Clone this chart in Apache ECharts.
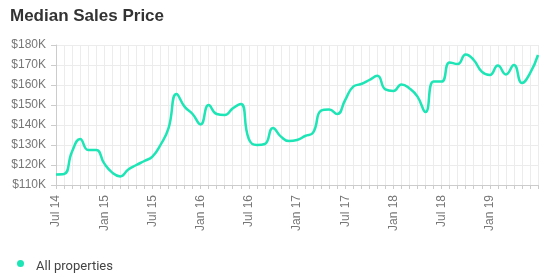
<!DOCTYPE html>
<html><head><meta charset="utf-8">
<script src="https://cdn.jsdelivr.net/npm/echarts@6/dist/echarts.min.js"></script>
<style>html,body{margin:0;padding:0;background:#fff}#c{width:549px;height:280px}</style>
</head><body><div id="c"></div>
<script>
const months = ['Jul 14','Aug 14','Sep 14','Oct 14','Nov 14','Dec 14',
'Jan 15','Feb 15','Mar 15','Apr 15','May 15','Jun 15','Jul 15','Aug 15','Sep 15','Oct 15','Nov 15','Dec 15',
'Jan 16','Feb 16','Mar 16','Apr 16','May 16','Jun 16','Jul 16','Aug 16','Sep 16','Oct 16','Nov 16','Dec 16',
'Jan 17','Feb 17','Mar 17','Apr 17','May 17','Jun 17','Jul 17','Aug 17','Sep 17','Oct 17','Nov 17','Dec 17',
'Jan 18','Feb 18','Mar 18','Apr 18','May 18','Jun 18','Jul 18','Aug 18','Sep 18','Oct 18','Nov 18','Dec 18',
'Jan 19','Feb 19','Mar 19','Apr 19','May 19','Jun 19','Jul 19'];
const labelMonths = ['Jul 14','Jan 15','Jul 15','Jan 16','Jul 16','Jan 17','Jul 17','Jan 18','Jul 18','Jan 19'];
const seriesName = 'All properties';
const prices = [115300,115500,126700,133000,127500,127500,
120800,116200,114300,117800,120000,122000,124200,130000,138300,155500,149200,145500,
140300,150000,145500,145000,148300,150500,133000,130000,130500,138500,134200,132000,
132500,134500,136200,147200,147800,145500,152500,159200,160500,162500,164600,157800,
157000,160300,158300,154200,146500,161700,161700,171300,170500,175300,172500,166700,
165000,169700,165300,170000,161000,165800,175000];
const yTicks = {min:110000, max:180000, interval:10000};

const chart = echarts.init(document.getElementById('c'));
chart.setOption({
  animation:false,
  title:{text:'Median Sales Price', left:5, top:3, textStyle:{fontFamily:'Liberation Sans', fontSize:17, fontWeight:'bold', color:'#333'}},
  grid:{left:56, right:11, top:45, bottom:95},
  legend:{left:12, top:255, icon:'circle', itemWidth:21, itemHeight:7, itemGap:10,
    formatter:'{t|{name}}',
    textStyle:{fontFamily:'Roboto', fontSize:13, color:'#444',
      rich:{t:{fontFamily:'Roboto', fontSize:13, color:'#444', padding:[6,0,0,0]}}},
    data:[seriesName]},
  xAxis:{type:'category', data:months, boundaryGap:false,
    axisLine:{lineStyle:{color:'#ccc'}},
    axisTick:{show:true, interval:0, length:4, lineStyle:{color:'#ccc'}},
    splitLine:{show:true, interval:0, lineStyle:{color:'#ececec'}},
    axisLabel:{interval:(i,v)=>labelMonths.includes(v), rotate:90, margin:10, fontFamily:'Liberation Sans', fontSize:12, color:'#777'}},
  yAxis:{type:'value', min:yTicks.min, max:yTicks.max, interval:yTicks.interval,
    axisLine:{show:true, lineStyle:{color:'#ccc'}},
    axisTick:{show:true, length:5, lineStyle:{color:'#ccc'}},
    splitLine:{lineStyle:{color:'#ececec'}},
    axisLabel:{margin:10, fontFamily:'Liberation Sans', fontSize:12, color:'#777', formatter:v=>'$'+(v/1000)+'K'}},
  series:[{name:seriesName, type:'line', data:prices, smooth:0.5, showSymbol:false, symbol:'circle',
    lineStyle:{color:'#1de5b5', width:2.5}, itemStyle:{color:'#1de5b5'}}]
});
</script></body></html>
